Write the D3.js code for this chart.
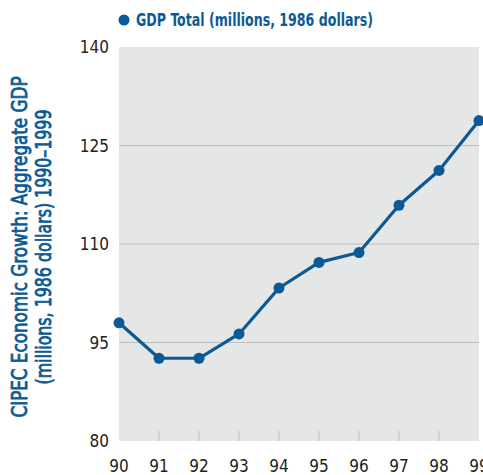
<!DOCTYPE html>
<html>
<head>
<meta charset="utf-8">
<script src="https://cdn.jsdelivr.net/npm/d3@7"></script>
<style>
  body { margin: 0; background: #fff; }
  svg text { font-family: "DejaVu Sans Condensed", "Liberation Sans Narrow", "Roboto", sans-serif; font-stretch: condensed; }
</style>
</head>
<body>
<div id="chart"></div>
<script>
/* --- データ --- */
const years = [90, 91, 92, 93, 94, 95, 96, 97, 98, 99];
const gdp = [98.0, 92.6, 92.6, 96.3, 103.3, 107.2, 108.7, 115.9, 121.2, 128.8];
const yTicks = [80, 95, 110, 125, 140];
const seriesLabel = "GDP Total (millions, 1986 dollars)";
const titleLines = ["CIPEC Economic Growth: Aggregate GDP", "(millions, 1986 dollars) 1990\u20131999"];

const width = 483, height = 475;
const margin = { top: 47, right: 4, bottom: 34, left: 119 };
const blue = "#0b5a96";

const svg = d3.select("#chart").append("svg")
  .attr("width", width)
  .attr("height", height);

const x = d3.scaleLinear().domain([90, 99]).range([margin.left, width - margin.right]);
const y = d3.scaleLinear().domain([80, 140]).range([height - margin.bottom, margin.top]);

// 背景
svg.append("rect")
  .attr("x", x(90)).attr("y", y(140))
  .attr("width", x(99) - x(90)).attr("height", y(80) - y(140))
  .attr("fill", "#e5e6e6");

// グリッド線
svg.selectAll(".grid")
  .data(yTicks.filter(d => d > 80 && d < 140))
  .enter().append("line")
  .attr("x1", x(90)).attr("x2", x(99))
  .attr("y1", d => y(d)).attr("y2", d => y(d))
  .attr("stroke", "#bdbebe").attr("stroke-width", 1.2);

// y軸ラベル
svg.selectAll(".ylab")
  .data(yTicks)
  .enter().append("text")
  .attr("x", 109)
  .attr("y", d => y(d) + 6)
  .attr("text-anchor", "end")
  .attr("font-size", 17)
  .attr("fill", "#222")
  .text(d => d);

// x軸目盛り
svg.selectAll(".xtick")
  .data(years.slice(1, -1))
  .enter().append("line")
  .attr("x1", d => x(d)).attr("x2", d => x(d))
  .attr("y1", y(80) - 10).attr("y2", y(80))
  .attr("stroke", "#bdbebe").attr("stroke-width", 1);

svg.selectAll(".xlab")
  .data(years)
  .enter().append("text")
  .attr("x", d => x(d))
  .attr("y", 472)
  .attr("text-anchor", "middle")
  .attr("font-size", 17)
  .attr("fill", "#222")
  .text(d => d);

// 折れ線
const line = d3.line()
  .x((d, i) => x(years[i]))
  .y(d => y(d));

svg.append("path")
  .datum(gdp)
  .attr("d", line)
  .attr("fill", "none")
  .attr("stroke", blue)
  .attr("stroke-width", 3.2)
  .attr("stroke-linejoin", "round");

svg.selectAll(".dot")
  .data(gdp)
  .enter().append("circle")
  .attr("cx", (d, i) => x(years[i]))
  .attr("cy", d => y(d))
  .attr("r", 5.5)
  .attr("fill", blue);

// 凡例
svg.append("circle")
  .attr("cx", 124).attr("cy", 20).attr("r", 5.5)
  .attr("fill", blue);
svg.append("text")
  .attr("x", 136).attr("y", 26)
  .attr("font-size", 17).attr("font-weight", "bold")
  .attr("fill", blue)
  .attr("textLength", 237)
  .attr("lengthAdjust", "spacingAndGlyphs")
  .text(seriesLabel);

// 縦タイトル
const titleWidths = [341, 275];
const title = svg.append("text")
  .attr("transform", "translate(0,247) rotate(-90)")
  .attr("text-anchor", "middle")
  .attr("font-size", 21)
  .attr("fill", blue)
  .attr("stroke", blue)
  .attr("stroke-width", 0.8);
titleLines.forEach((t, i) => {
  title.append("tspan")
    .attr("x", 0)
    .attr("y", 27 + i * 24)
    .attr("textLength", titleWidths[i])
    .attr("lengthAdjust", "spacingAndGlyphs")
    .text(t);
});
</script>
</body>
</html>
